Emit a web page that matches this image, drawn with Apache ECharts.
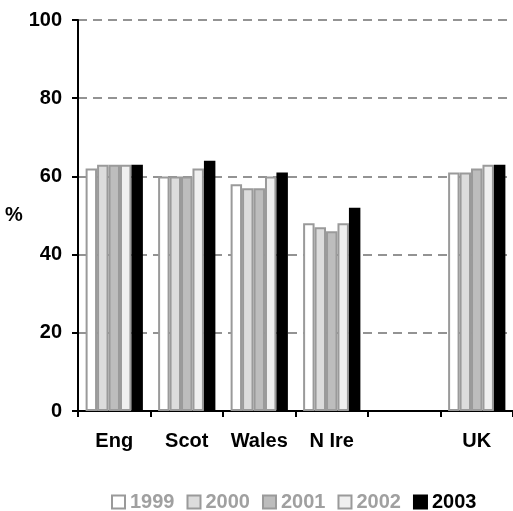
<!DOCTYPE html>
<html>
<head>
<meta charset="utf-8">
<script src="https://cdn.jsdelivr.net/npm/echarts@6/dist/echarts.min.js"></script>
<style>
  html, body { margin: 0; padding: 0; background: #fff; }
  #chart { width: 513px; height: 511px; }
</style>
</head>
<body>
<div id="chart"></div>
<script>
// Regions (blank slot separates the nations from the UK total)
const categories = ['Eng', 'Scot', 'Wales', 'N Ire', '', 'UK'];
const years = ['1999', '2000', '2001', '2002', '2003'];

// Percentage values per year, one entry per category
const values1999 = [62, 60, 58, 48, null, 61];
const values2000 = [63, 60, 57, 47, null, 61];
const values2001 = [63, 60, 57, 46, null, 62];
const values2002 = [63, 62, 60, 48, null, 63];
const values2003 = [63, 64, 61, 52, null, 63];

const yTicks = [0, 20, 40, 60, 80, 100];

const seriesValues = [values1999, values2000, values2001, values2002, values2003];
const fills = ['#ffffff', '#dcdcdc', '#bdbdbd', '#efefef', '#000000'];
const borders = ['#9a9a9a', '#9a9a9a', '#9a9a9a', '#9a9a9a', '#000000'];

const font = '"Liberation Sans", Arial, sans-serif';

const chart = echarts.init(document.getElementById('chart'), null, { renderer: 'canvas' });

chart.setOption({
  animation: false,
  grid: { left: 78, right: 0, top: 20, bottom: 100, containLabel: false },
  legend: {
    left: 106,
    top: 487,
    itemWidth: 13,
    itemHeight: 13,
    itemGap: 12,
    icon: 'rect',
    data: years.map((y, i) => ({
      name: y,
      textStyle: {
        color: i === 4 ? '#000' : '#a0a0a0',
        fontWeight: 'bold',
        fontSize: 20,
        fontFamily: font
      }
    }))
  },
  xAxis: {
    type: 'category',
    data: categories,
    axisLine: { lineStyle: { color: '#000', width: 2 } },
    axisTick: { show: true, interval: 0, length: 6, lineStyle: { color: '#000', width: 2 } },
    axisLabel: { interval: 0, color: '#000', fontWeight: 'bold', fontSize: 20, fontFamily: font, margin: 20 }
  },
  yAxis: {
    type: 'value',
    min: yTicks[0],
    max: yTicks[yTicks.length - 1],
    interval: 20,
    name: '%',
    nameLocation: 'middle',
    nameRotate: 0,
    nameGap: 49,
    nameTextStyle: { color: '#000', fontWeight: 'bold', fontSize: 20, fontFamily: font },
    axisLine: { show: true, lineStyle: { color: '#000', width: 2 } },
    axisTick: { show: true, length: 6, lineStyle: { color: '#000', width: 2 } },
    axisLabel: { color: '#000', fontWeight: 'bold', fontSize: 20, fontFamily: font, margin: 16 },
    splitLine: { show: true, lineStyle: { color: '#707070', width: 1.5, type: [9, 6] } }
  },
  series: years.map((y, i) => ({
    name: y,
    type: 'bar',
    data: seriesValues[i],
    barGap: '0%',
    barCategoryGap: '21%',
    itemStyle: { color: fills[i], borderColor: borders[i], borderWidth: 2 }
  }))
});
</script>
</body>
</html>
